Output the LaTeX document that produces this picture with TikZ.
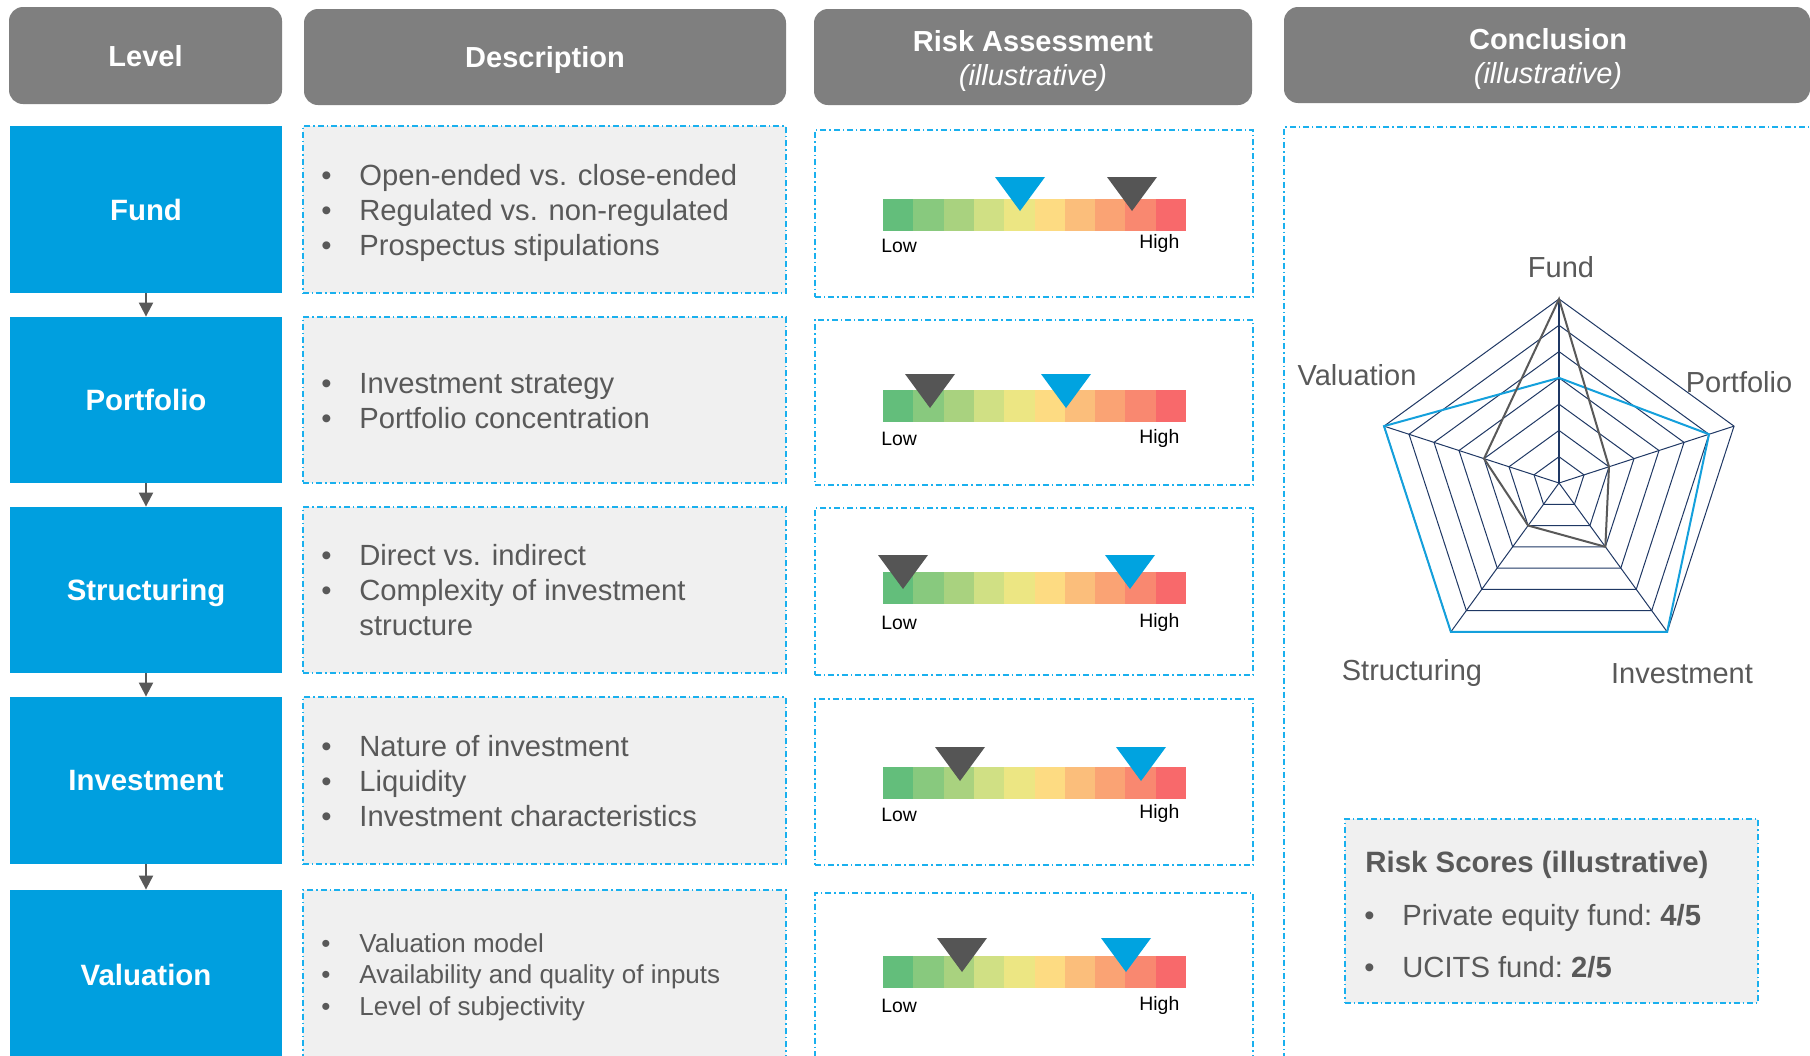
\documentclass[tikz,border=0pt]{standalone}
\usepackage{fontspec}
\setmainfont{Liberation Sans}
\usetikzlibrary{arrows.meta}
\definecolor{hdrgray}{HTML}{7F7F7F}
\definecolor{lvlblue}{HTML}{009FDF}
\definecolor{descfill}{HTML}{F0F0F0}
\definecolor{ddblue}{HTML}{1AB0EE}
\definecolor{txtgray}{HTML}{595959}
\definecolor{trigray}{HTML}{555555}
\definecolor{triblue}{HTML}{00A3E0}
\definecolor{gridnavy}{HTML}{1F3864}
\definecolor{serblue}{HTML}{14A0DC}
\definecolor{sergray}{HTML}{595959}
\definecolor{cA}{HTML}{63BE7B}
\definecolor{cB}{HTML}{88C97E}
\definecolor{cC}{HTML}{A9D27F}
\definecolor{cD}{HTML}{D0E084}
\definecolor{cE}{HTML}{ECE683}
\definecolor{cF}{HTML}{FDDB82}
\definecolor{cG}{HTML}{FBBE7B}
\definecolor{cH}{HTML}{FAA374}
\definecolor{cI}{HTML}{F98870}
\definecolor{cJ}{HTML}{F8696B}
\tikzset{
 hdr/.style={fill=hdrgray, rounded corners=7pt, inner sep=0, text=white, text depth=0pt,
   font=\fontsize{14.5}{17}\selectfont\bfseries},
 htxt/.style={text=white, font=\fontsize{14.5}{17}\selectfont\bfseries, anchor=base, inner sep=0},
 hit/.style={text=white, font=\fontsize{14.5}{17}\selectfont\itshape, anchor=base, inner sep=0},
 lvl/.style={fill=lvlblue, inner sep=0, minimum width=136pt, text=white, text depth=0pt,
   font=\fontsize{14.7}{17}\selectfont\bfseries},
 ddbox/.style={draw=ddblue, line width=1pt, dash pattern=on 3pt off 1.5pt on 0.7pt off 1.5pt, inner sep=0},
 descbox/.style={ddbox, fill=descfill, minimum width=241.5pt},
 riskbox/.style={ddbox, minimum width=219pt},
 btxt/.style={text=txtgray, font=\fontsize{14.6}{17.5}\selectfont, anchor=base west, inner sep=0},
 stxt/.style={text=txtgray, font=\fontsize{13}{15.75}\selectfont, anchor=base west, inner sep=0},
 lh/.style={text=black, font=\fontsize{9.7}{11}\selectfont, anchor=base west, inner sep=0},
 flow/.style={draw=txtgray, line width=1pt, -{Triangle[length=7pt,width=7pt]}},
 rlab/.style={text=txtgray, font=\fontsize{14.5}{17}\selectfont, anchor=base, inner sep=0},
 grid/.style={draw=gridnavy, line width=0.5pt, line join=miter},
}
\newcommand{\bitem}[4][btxt]{%
  \node[#1] (#2b) at (321,#3) {•};
  \node[#1] (#2) at (359,#3) {#4};}
% #1 name, #2 bar top, #3 triangle top, #4 dark tip x, #5 blue tip x, #6 Low baseline, #7 High baseline
\newcommand{\riskrow}[7]{%
  \foreach \i/\col in {0/cA,1/cB,2/cC,3/cD,4/cE,5/cF,6/cG,7/cH,8/cI,9/cJ}
    \fill[fill=\col] ({883+30.3*\i},#2) rectangle ({883+30.3*(\i+1)+0.4},#2+32);
  \fill[trigray] (#4-25,#3) -- (#4+25,#3) -- (#4,#3+34) -- cycle;
  \fill[triblue] (#5-25,#3) -- (#5+25,#3) -- (#5,#3+34) -- cycle;
  \node[lh] (#1low) at (881,#6) {Low};
  \node[lh] (#1high) at (1139,#7) {High};}
\begin{document}
\begin{tikzpicture}[x=0.5pt, y=-0.5pt]
\useasboundingbox (0,0) rectangle (1810,1055);
\clip (0,0) rectangle (1810,1055);
\fill[white] (0,0) rectangle (1810,1055);

% headers
\node[hdr, minimum width=136.5pt, minimum height=48.5pt] (hlevel) at (145.5,55.5) {Level};
\node[hdr, minimum width=241pt, minimum height=48pt] (hdesc) at (545,57) {Description};
\node[hdr, minimum width=219pt, minimum height=48pt] (hrisk) at (1033,57) {};
\node[htxt] (hrisk1) at (1033,51) {Risk Assessment};
\node[hit] (hrisk2) at (1033,85) {(illustrative)};
\node[hdr, minimum width=263pt, minimum height=48pt] (hconc) at (1547,55) {};
\node[htxt] (hconc1) at (1548,49) {Conclusion};
\node[hit] (hconc2) at (1548,83) {(illustrative)};

% level boxes
\node[lvl, minimum height=83.5pt] (fund) at (146,209.5) {Fund};
\node[lvl, minimum height=83pt] (portfolio) at (146,400) {Portfolio};
\node[lvl, minimum height=83pt] (structuring) at (146,590) {Structuring};
\node[lvl, minimum height=83.5pt] (investment) at (146,780.5) {Investment};
\node[lvl, minimum height=85pt] (valuation) at (146,975) {Valuation};
\draw[flow] (fund.south) -- (portfolio.north);
\draw[flow] (portfolio.south) -- (structuring.north);
\draw[flow] (structuring.south) -- (investment.north);
\draw[flow] (investment.south) -- (valuation.north);

% description boxes
\node[descbox, minimum height=83.5pt] (dfund) at (544.5,209.5) {};
\node[descbox, minimum height=83pt] (dport) at (544.5,400) {};
\node[descbox, minimum height=83pt] (dstruc) at (544.5,590) {};
\node[descbox, minimum height=83.5pt] (dinv) at (544.5,780.5) {};
\node[descbox, minimum height=85pt] (dval) at (544.5,975) {};

\bitem{df1}{185}{Open-ended vs. close-ended}
\bitem{df2}{220}{Regulated vs. non-regulated}
\bitem{df3}{255}{Prospectus stipulations}
\bitem{dp1}{393}{Investment strategy}
\bitem{dp2}{428}{Portfolio concentration}
\bitem{ds1}{565}{Direct vs. indirect}
\bitem{ds2}{600}{Complexity of investment}
\node[btxt] (ds3) at (359,635) {structure};
\bitem{di1}{756}{Nature of investment}
\bitem{di2}{791}{Liquidity}
\bitem{di3}{826}{Investment characteristics}
\bitem[stxt]{dv1}{952}{Valuation model}
\bitem[stxt]{dv2}{983}{Availability and quality of inputs}
\bitem[stxt]{dv3}{1015}{Level of subjectivity}

% risk boxes
\node[riskbox, minimum height=83.5pt] (rfund) at (1034,213.5) {};
\node[riskbox, minimum height=82.5pt] (rport) at (1034,402.5) {};
\node[riskbox, minimum height=83.5pt] (rstruc) at (1034,591.5) {};
\node[riskbox, minimum height=83pt] (rinv) at (1034,782) {};
\node[riskbox, minimum height=86pt] (rval) at (1034,979) {};

\riskrow{rf}{199}{177}{1132}{1020}{252}{248}
\riskrow{rp}{390}{374}{930}{1066}{445}{443}
\riskrow{rs}{572}{555}{903}{1130}{629}{627}
\riskrow{ri}{767}{747}{960}{1141}{821}{818}
\riskrow{rv}{956}{938}{962}{1126}{1012}{1010}

% conclusion box
\node[ddbox, minimum width=273pt, minimum height=471.5pt] (conc) at (1557,598.5) {};

% radar chart
\begin{scope}[shift={(1559,483)}, yscale=-1]
  \foreach \k in {1,...,7} {
    \pgfmathsetmacro\rr{184*\k/7}
    \draw[grid] (90:\rr) -- (18:\rr) -- (-54:\rr) -- (-126:\rr) -- (162:\rr) -- cycle;
  }
  \foreach \a in {18,-54,-126,162} \draw[grid] (0,0) -- (\a:184);
  \draw[draw=gridnavy, line width=1pt] (0,0) -- (90:184);
  \draw[serblue, line width=1pt, line join=miter]
    (90:{184*4/7}) -- (18:{184*6/7}) -- (-54:184) -- (-126:184) -- (162:184) -- cycle;
  \draw[sergray, line width=1pt, line join=miter]
    (90:184) -- (18:{184*2/7}) -- (-54:{184*3/7}) -- (-126:{184*2/7}) -- (162:{184*3/7}) -- cycle;
\end{scope}
\node[rlab] (lfund) at (1561,277) {Fund};
\node[rlab] (lport) at (1739,392) {Portfolio};
\node[rlab] (linv) at (1682,683) {Investment};
\node[rlab] (lstruc) at (1412,680) {Structuring};
\node[rlab] (lval) at (1357,385) {Valuation};

% risk scores box
\node[ddbox, fill=descfill, minimum width=206.5pt, minimum height=92pt] (scores) at (1551.5,911) {};
\node[text=txtgray, font=\fontsize{14.7}{18}\selectfont\bfseries, anchor=base west, inner sep=0] (stitle) at (1365,872) {Risk Scores (illustrative)};
\node[btxt] (sb1) at (1364,925) {•};
\node[btxt] (st1) at (1402,925) {Private equity fund:~\textbf{4/5}};
\node[btxt] (sb2) at (1364,977) {•};
\node[btxt] (st2) at (1402,977) {UCITS fund:~\textbf{2/5}};
\end{tikzpicture}
\end{document}
